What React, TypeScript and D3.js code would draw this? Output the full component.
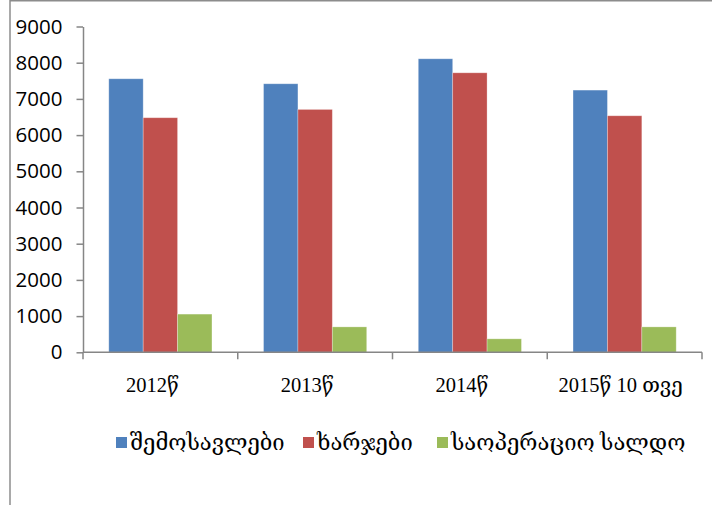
import React, { useRef, useEffect } from 'react';
import * as d3 from 'd3';

// values
const categories = ['2012წ', '2013წ', '2014წ', '2015წ 10 თვე'];
const seriesNames = ['შემოსავლები', 'ხარჯები', 'საოპერაციო სალდო'];
const income = [7556, 7418, 8108, 7243];
const expenses = [6480, 6709, 7721, 6534];
const balance = [1055, 702, 372, 702];
const yTicks = [0, 1000, 2000, 3000, 4000, 5000, 6000, 7000, 8000, 9000];

const colors = ['#4F81BD', '#C0504D', '#9BBB59'];

const App = () => {
  const ref = useRef<SVGSVGElement>(null);
  const width = 712;
  const height = 505;

  useEffect(() => {
    const svg = d3.select(ref.current);
    svg.selectAll('*').remove();

    const values = [income, expenses, balance];
    const margin = { left: 83, right: 10, top: 26.5, bottom: 352.3 };
    const axisColor = '#868686';

    // frame of the chart area
    svg.append('line')
      .attr('x1', 10).attr('x2', 10).attr('y1', 0).attr('y2', height)
      .attr('stroke', '#8c8c8c').attr('stroke-width', 1.5);
    svg.append('line')
      .attr('x1', 10).attr('x2', width).attr('y1', 0.75).attr('y2', 0.75)
      .attr('stroke', '#8c8c8c').attr('stroke-width', 1.5);

    // Scales
    const x0 = d3.scaleBand()
      .domain(categories)
      .range([margin.left, width - margin.right])
      .padding(0);

    const x1 = d3.scaleBand()
      .domain(seriesNames)
      .range([0, x0.bandwidth()])
      .paddingInner(0)
      .paddingOuter(0.75);

    const y = d3.scaleLinear()
      .domain([0, 9000])
      .range([margin.bottom, margin.top]);

    // Bars
    const groups = svg.append('g')
      .selectAll('g')
      .data(categories)
      .join('g')
      .attr('transform', d => `translate(${x0(d)},0)`);

    groups.selectAll('rect')
      .data((c, i) => seriesNames.map((s, k) => ({ s, k, v: values[k][i] })))
      .join('rect')
      .attr('x', d => x1(d.s)!)
      .attr('width', x1.bandwidth())
      .attr('y', d => y(d.v))
      .attr('height', d => y(0) - y(d.v))
      .attr('fill', d => colors[d.k])
      .attr('stroke', 'rgba(255,255,255,0.35)')
      .attr('stroke-width', 0.8);

    // Y-axis
    const yAxis = svg.append('g')
      .attr('transform', `translate(${margin.left},0)`)
      .call(d3.axisLeft(y).tickValues(yTicks).tickFormat(d3.format('d')).tickSize(6.5).tickPadding(14).tickSizeOuter(0));
    yAxis.select('.domain').attr('stroke', axisColor).attr('stroke-width', 1.5);
    yAxis.selectAll('.tick line').attr('stroke', axisColor).attr('stroke-width', 1.5);
    yAxis.selectAll('.tick text')
      .attr('fill', '#000')
      .style('font-family', '"Open Sans", "Liberation Sans", sans-serif')
      .style('font-size', '20.5px');
    // axis runs a little below zero like the category ticks
    svg.append('line')
      .attr('x1', margin.left).attr('x2', margin.left)
      .attr('y1', y(0)).attr('y2', y(0) + 7)
      .attr('stroke', axisColor).attr('stroke-width', 1.5);

    // X-axis
    svg.append('line')
      .attr('x1', margin.left).attr('x2', width - margin.right)
      .attr('y1', y(0)).attr('y2', y(0))
      .attr('stroke', axisColor).attr('stroke-width', 1.5);
    svg.append('g')
      .selectAll('line')
      .data(categories)
      .join('line')
      .attr('x1', d => x0(d)! + x0.bandwidth())
      .attr('x2', d => x0(d)! + x0.bandwidth())
      .attr('y1', y(0))
      .attr('y2', y(0) + 7)
      .attr('stroke', axisColor)
      .attr('stroke-width', 1.5);

    // Category labels
    svg.append('g')
      .selectAll('text')
      .data(categories)
      .join('text')
      .attr('x', (d, i) => x0(d)! + x0.bandwidth() / 2 + (i === 3 ? -4 : -8))
      .attr('y', 392)
      .attr('text-anchor', 'middle')
      .style('font-family', '"Liberation Serif", "DejaVu Serif", serif')
      .style('font-size', '20.5px')
      .text(d => d);

    // Legend
    const legendX = [116, 303, 437];
    const legend = svg.append('g')
      .selectAll('g')
      .data(seriesNames)
      .join('g')
      .attr('transform', (d, i) => `translate(${legendX[i]},437)`);
    legend.append('rect')
      .attr('width', 11).attr('height', 11)
      .attr('fill', (d, i) => colors[i]);
    legend.append('text')
      .attr('x', 14)
      .attr('y', 13)
      .style('font-family', '"Liberation Serif", "DejaVu Serif", serif')
      .style('font-size', '22px')
      .text(d => d);
  }, []);

  return (
    <svg
      ref={ref}
      width={width}
      height={height}
      style={{ position: 'absolute', left: 0, top: 0, background: '#fff' }}
    />
  );
};

export default App;
